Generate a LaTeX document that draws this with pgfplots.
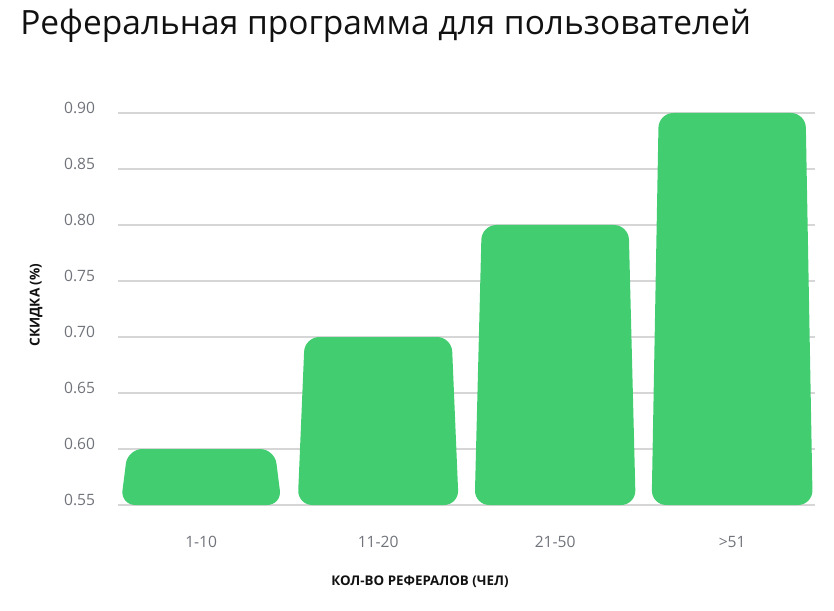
\documentclass[border=0pt]{standalone}
\usepackage{pgfplots}
\pgfplotsset{compat=1.18}
\usepackage{fontspec}
\setmainfont{Open Sans}
\definecolor{bargreen}{HTML}{42CE70}
\definecolor{tickgray}{HTML}{70737A}
\definecolor{gridgray}{HTML}{D6D6D6}
\definecolor{titleblack}{HTML}{111111}
\begin{document}
\begin{tikzpicture}
% page frame: 834x610 px at 0.75pt per px
\path (-88.5pt,-78.75pt) rectangle (537pt,378.75pt);
\begin{axis}[
    at={(0,0)}, anchor=south west,
    scale only axis,
    width=523pt, height=294pt,
    xmin=-0.47, xmax=3.47,
    ymin=0.55, ymax=0.90,
    clip=false,
    axis line style={draw=none},
    major tick length=0pt,
    ymajorgrids,
    grid style={gridgray, line width=0.8pt},
    ytick={0.55,0.60,0.65,0.70,0.75,0.80,0.85,0.90},
    xtick={0,1,2,3},
    xticklabels={1-10,11-20,21-50,>51},
    /pgf/number format/assume math mode=true,
    yticklabel={\pgfmathprintnumber[fixed,fixed zerofill,precision=2]{\tick}},
    ticklabel style={font=\fontsize{11.7}{13}\selectfont, text=tickgray},
    yticklabel style={anchor=east, inner sep=0pt, xshift=-17pt, yshift=4pt},
    xticklabel style={anchor=center, inner sep=0pt, yshift=-28pt},
    bar/.style={fill=bargreen, draw=none, rounded corners=11pt, forget plot},
]
\addplot[bar] coordinates {(-0.455,0.55) (-0.415,0.60) (0.415,0.60) (0.455,0.55)} -- cycle;
\addplot[bar] coordinates {(0.545,0.55) (0.585,0.70) (1.415,0.70) (1.455,0.55)} -- cycle;
\addplot[bar] coordinates {(1.545,0.55) (1.585,0.80) (2.415,0.80) (2.455,0.55)} -- cycle;
\addplot[bar] coordinates {(2.545,0.55) (2.585,0.90) (3.415,0.90) (3.455,0.55)} -- cycle;
\end{axis}
\node[anchor=base west, inner sep=0pt, text=titleblack, font=\fontsize{25.1}{30}\selectfont]
    at (-73.5pt,352.5pt) {Реферальная программа для пользователей};
\node[rotate=90, inner sep=0pt, font=\bfseries\fontsize{10.2}{12}\selectfont, text=titleblack]
    at (-61.5pt,150pt) {СКИДКА (\%)};
\node[inner sep=0pt, font=\bfseries\fontsize{10}{12}\selectfont, text=titleblack]
    at (226.5pt,-57.75pt) {КОЛ-ВО РЕФЕРАЛОВ (ЧЕЛ)};
\end{tikzpicture}
\end{document}
